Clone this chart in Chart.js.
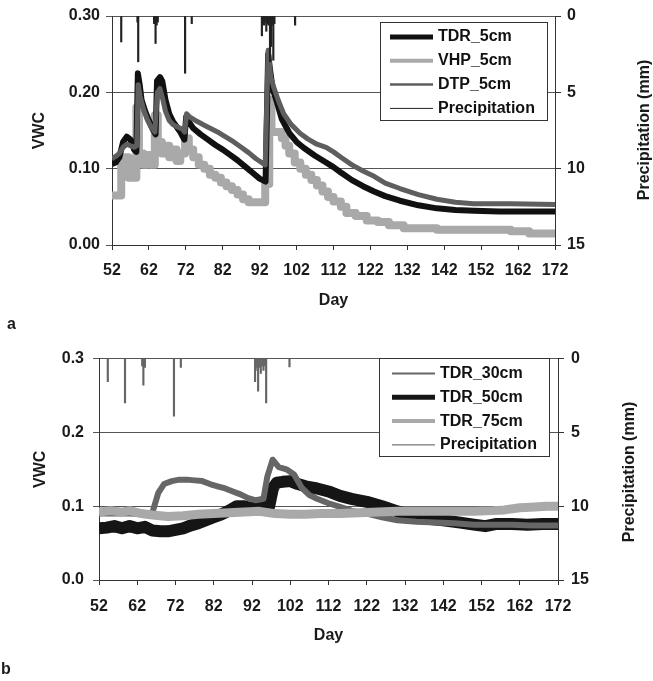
<!DOCTYPE html>
<html><head><meta charset="utf-8">
<script src="https://cdn.jsdelivr.net/npm/chart.js@4.4.1/dist/chart.umd.min.js"></script>
<style>
html,body{margin:0;padding:0;background:#fff;width:653px;height:681px;overflow:hidden}
.wrap{position:absolute;left:0;width:653px}
</style></head><body>
<div class="wrap" style="top:0;height:340px"><canvas id="ca"></canvas></div>
<div class="wrap" style="top:340px;height:341px"><canvas id="cb"></canvas></div>
<script>
// ---------- shared ticks ----------
const dayTicks = [52, 62, 72, 82, 92, 102, 112, 122, 132, 142, 152, 162, 172];
const vwcTickLabelsA = ['0.00', '0.10', '0.20', '0.30'];
const vwcTickLabelsB = ['0.0', '0.1', '0.2', '0.3'];
const precipTicks = [0, 5, 10, 15];

// ---------- panel a ----------
const tdr5Days = [52,53,54,55,56,57,58,58.6,59,59.5,60,61,62,63,63.8,64.2,65,65.6,66.5,67.5,68.5,69.5,70.5,71.6,72.1,73,74,76,78,80,82,84,86,88,90,92,93.6,94.3,94.8,95.5,96.5,98,100,102,104,107,110,112,114,117,120,123,126,130,135,140,145,150,157,162,167,172];
const tdr5Vals = [0.106,0.108,0.115,0.135,0.142,0.138,0.125,0.122,0.225,0.21,0.19,0.175,0.163,0.152,0.145,0.215,0.22,0.215,0.19,0.172,0.162,0.155,0.148,0.138,0.168,0.16,0.153,0.145,0.138,0.131,0.125,0.118,0.111,0.103,0.095,0.087,0.083,0.25,0.23,0.205,0.19,0.165,0.147,0.135,0.127,0.117,0.108,0.102,0.095,0.085,0.077,0.07,0.064,0.058,0.052,0.048,0.046,0.045,0.044,0.044,0.044,0.044];

const vhp5Days = [52,54.5,56.5,58.6,59.3,60.5,61.5,62.5,63.6,64.4,65.5,66.5,67.5,68.5,69.5,70.5,71.8,72.8,74,75.5,77,78.5,80,81.5,83,84.5,86,87.5,89,93.5,94.6,95.2,98,99,100,101.5,103,104.5,106,107.5,109,110.5,112,114,115.5,118,121,124,127,131,140,150,160,165,172];
const vhp5Vals = [0.065,0.115,0.088,0.18,0.12,0.105,0.118,0.105,0.17,0.135,0.12,0.13,0.115,0.125,0.11,0.12,0.14,0.125,0.115,0.105,0.1,0.092,0.088,0.082,0.077,0.072,0.066,0.06,0.056,0.08,0.19,0.148,0.14,0.13,0.12,0.108,0.1,0.092,0.085,0.078,0.07,0.063,0.057,0.05,0.042,0.038,0.032,0.03,0.026,0.022,0.02,0.02,0.018,0.015,0.015];

const dtp5Days = [52,53,54,55,56,57,58,58.7,59.1,59.6,60.5,61.5,62.5,63.6,64.3,65,65.8,66.5,67.5,68.5,69.5,71,71.7,72.2,73,75,77,79,81,83,85,87,89,91,93.5,94.3,95,95.8,97,98.5,100.5,103,105,107.5,110,112,114,117,120,123,126,130,135,140,145,150,160,172];
const dtp5Vals = [0.113,0.116,0.12,0.128,0.132,0.13,0.128,0.13,0.21,0.195,0.178,0.165,0.155,0.148,0.2,0.205,0.19,0.175,0.163,0.158,0.155,0.152,0.148,0.172,0.168,0.162,0.157,0.152,0.147,0.141,0.135,0.128,0.121,0.113,0.105,0.255,0.22,0.207,0.19,0.172,0.158,0.146,0.139,0.132,0.128,0.122,0.115,0.105,0.097,0.09,0.081,0.074,0.066,0.06,0.056,0.054,0.054,0.053];

const precipDaysA = [54.5,58.9,59.1,63.4,63.8,64.1,64.4,71.8,73.6,92.6,92.9,93.2,93.5,93.8,94.1,94.4,94.8,95.1,95.4,95.7,96.0,101.6];
const precipMmA   = [1.7,0.4,3.0,0.5,1.8,0.6,0.4,3.75,0.5,1.3,0.5,0.6,0.4,1.0,0.5,0.6,3.0,2.0,0.6,2.9,0.5,0.6];

// ---------- panel b ----------
const tdr30Days = [52,56,60,64,66,67.5,69,71,73,75,77,79,81,83,85,87,89,91,93,95,96,97.4,99,101,103,105,107,109,112,115,118,122,126,130,135,140,145,150,155,160,165,172];
const tdr30Vals = [0.09,0.09,0.09,0.089,0.092,0.118,0.13,0.134,0.136,0.136,0.135,0.134,0.13,0.127,0.124,0.12,0.116,0.111,0.108,0.11,0.14,0.163,0.153,0.15,0.143,0.125,0.115,0.11,0.104,0.099,0.094,0.09,0.085,0.081,0.079,0.078,0.077,0.075,0.075,0.075,0.074,0.074];

const tdr50Days = [52,54,56,58,60,62,64,66,68,70,72,74,76,78,80,82,84,86,88,90,92,94,96.5,97.5,98.5,100,102,104,106,109,112,115,118,122,126,130,134,138,142,146,150,153,156,160,164,168,172];
const tdr50Vals = [0.07,0.071,0.073,0.07,0.073,0.07,0.072,0.067,0.066,0.066,0.068,0.07,0.074,0.077,0.081,0.085,0.089,0.094,0.1,0.1,0.097,0.1,0.1,0.125,0.132,0.133,0.134,0.13,0.127,0.124,0.12,0.114,0.11,0.106,0.1,0.093,0.088,0.083,0.081,0.078,0.075,0.073,0.076,0.076,0.075,0.076,0.076];

const tdr75Days = [52,55,58,60,63,66,70,74,78,82,86,90,94,98,102,106,110,115,120,125,130,135,140,145,150,155,158,162,166,169,172];
const tdr75Vals = [0.092,0.094,0.092,0.094,0.09,0.088,0.086,0.087,0.089,0.09,0.091,0.092,0.093,0.09,0.089,0.089,0.09,0.09,0.091,0.092,0.093,0.093,0.093,0.093,0.093,0.094,0.095,0.098,0.099,0.1,0.1];

const precipDaysB = [54.3,58.8,63.3,63.6,64.0,71.6,73.4,92.8,93.1,93.4,93.6,94.0,94.3,94.7,95.0,95.4,95.7,101.8];
const precipMmB   = [1.56,3.0,0.5,1.8,0.6,3.9,0.6,1.56,0.6,0.8,2.2,0.6,1.0,0.5,0.8,0.5,3.0,0.57];

// ---------- helpers ----------
const FONT = '"Liberation Sans", Arial, Helvetica, sans-serif';
Chart.defaults.font.family = FONT;
Chart.defaults.font.size = 16;
Chart.defaults.font.weight = 'bold';
Chart.defaults.color = '#1a1a1a';

const pts = (xs, ys) => xs.map((x, i) => ({x: x, y: ys[i]}));

function overlayPlugin(cfg) {
  return {
    id: 'overlay_' + cfg.letter,
    afterDatasetsDraw(chart) {
      const ctx = chart.ctx;
      ctx.save();
      ctx.fillStyle = '#fff';
      ctx.fillRect(cfg.box.x, cfg.box.y, cfg.box.w, cfg.box.h);
      ctx.strokeStyle = '#333';
      ctx.lineWidth = 1;
      ctx.strokeRect(cfg.box.x, cfg.box.y, cfg.box.w, cfg.box.h);
      ctx.font = 'bold 16px ' + FONT;
      ctx.textBaseline = 'middle';
      ctx.textAlign = 'left';
      cfg.order.forEach((idx, r) => {
        const ds = chart.data.datasets[idx];
        const y = cfg.rowY + r * cfg.rowGap;
        ctx.strokeStyle = ds.legendColor;
        ctx.lineWidth = ds.legendWidth;
        ctx.beginPath();
        ctx.moveTo(cfg.lineX1, y);
        ctx.lineTo(cfg.lineX2, y);
        ctx.stroke();
        ctx.fillStyle = '#111';
        ctx.fillText(ds.label, cfg.textX, y);
      });
      ctx.restore();
    },
    afterDraw(chart) {
      const ctx = chart.ctx;
      ctx.save();
      ctx.font = 'bold 16px ' + FONT;
      ctx.fillStyle = '#1a1a1a';
      ctx.textAlign = 'center';
      ctx.textBaseline = 'middle';
      ctx.translate(cfg.rTitle.x, cfg.rTitle.y);
      ctx.rotate(-Math.PI / 2);
      ctx.fillText('Precipitation (mm)', 0, 0);
      ctx.restore();
      ctx.save();
      ctx.font = 'bold 16px ' + FONT;
      ctx.fillStyle = '#1a1a1a';
      ctx.textAlign = 'left';
      ctx.textBaseline = 'middle';
      ctx.fillText(cfg.letter, cfg.letterPos.x, cfg.letterPos.y);
      ctx.restore();
    }
  };
}

function makeScales(p) {
  return {
    x: {
      type: 'linear', position: 'bottom', min: 52, max: 172, offset: false,
      afterBuildTicks: s => { s.ticks = dayTicks.map(v => ({value: v})); },
      afterFit: s => { s.height = p.xHeight; },
      grid: {drawOnChartArea: false, drawTicks: true, tickLength: 5, color: '#333', lineWidth: 1, offset: false},
      border: {display: true, color: '#333', width: 1},
      ticks: {autoSkip: false, maxRotation: 0, padding: p.xPad, color: '#1a1a1a', callback: v => String(v)},
      title: {display: true, text: 'Day', color: '#1a1a1a', font: {size: 16, weight: 'bold'}, padding: {top: 0, bottom: p.dayPad}}
    },
    y: {
      type: 'linear', position: 'left', min: 0, max: 0.3,
      afterBuildTicks: s => { s.ticks = [0, 0.1, 0.2, 0.3].map(v => ({value: v})); },
      afterFit: s => { s.width = p.yWidth; },
      grid: {drawTicks: true, tickLength: 6, color: '#555', lineWidth: 1},
      border: {display: true, color: '#333', width: 1},
      ticks: {padding: p.yPad, color: '#1a1a1a', callback: (v, i) => p.yLabels[i]},
      title: {display: true, text: 'VWC', color: '#1a1a1a', font: {size: 16, weight: 'bold'}, padding: {top: p.vwcPad, bottom: 0}}
    },
    y2: {
      type: 'linear', position: 'right', min: 0, max: 15, reverse: true,
      afterBuildTicks: s => { s.ticks = precipTicks.map(v => ({value: v})); },
      afterFit: s => { s.width = p.y2Width; },
      grid: {drawOnChartArea: false, drawTicks: true, tickLength: 6, color: '#333', lineWidth: 1},
      border: {display: true, color: '#333', width: 1},
      ticks: {padding: p.y2Pad, color: '#1a1a1a', callback: v => String(v)}
    }
  };
}

const baseOpts = {
  responsive: true, maintainAspectRatio: false, animation: false, devicePixelRatio: 1,
  events: [],
  plugins: {legend: {display: false}, tooltip: {enabled: false}},
  elements: {point: {radius: 0}, line: {tension: 0, borderJoinStyle: 'round', borderCapStyle: 'butt'}}
};

// ---------- chart a ----------
new Chart(document.getElementById('ca'), {
  type: 'line',
  data: {
    datasets: [
      {type: 'bar', label: 'Precipitation', data: pts(precipDaysA, precipMmA), yAxisID: 'y2', xAxisID: 'x',
       backgroundColor: '#222', borderWidth: 0, barThickness: 1.5, order: 0, legendColor: '#222', legendWidth: 1},
      {label: 'DTP_5cm', data: pts(dtp5Days, dtp5Vals), yAxisID: 'y', borderColor: '#5e5e5e', borderWidth: 5,
       order: 1, legendColor: '#5e5e5e', legendWidth: 2.5},
      {label: 'TDR_5cm', data: pts(tdr5Days, tdr5Vals), yAxisID: 'y', borderColor: '#111', borderWidth: 6,
       order: 2, legendColor: '#111', legendWidth: 5},
      {label: 'VHP_5cm', data: pts(vhp5Days, vhp5Vals), yAxisID: 'y', borderColor: '#a9a9a9', borderWidth: 8,
       stepped: true, order: 3, legendColor: '#a9a9a9', legendWidth: 4}
    ]
  },
  options: Object.assign({}, baseOpts, {
    layout: {padding: {top: 16, left: 0, right: 0, bottom: 0}},
    scales: makeScales({xHeight: 95, xPad: 11, dayPad: 30, yWidth: 112, yPad: 6, yLabels: vwcTickLabelsA, vwcPad: 30, y2Width: 98, y2Pad: 6})
  }),
  plugins: [overlayPlugin({
    letter: 'a', letterPos: {x: 7, y: 325}, rTitle: {x: 645, y: 130},
    box: {x: 380.5, y: 22.5, w: 167, h: 98}, order: [2, 3, 1, 0],
    rowY: 37, rowGap: 23.8, lineX1: 390, lineX2: 433, textX: 438
  })]
});

// ---------- chart b ----------
new Chart(document.getElementById('cb'), {
  type: 'line',
  data: {
    datasets: [
      {type: 'bar', label: 'Precipitation', data: pts(precipDaysB, precipMmB), yAxisID: 'y2', xAxisID: 'x',
       backgroundColor: '#666', borderWidth: 0, barThickness: 1.5, order: 0, legendColor: '#555', legendWidth: 1},
      {label: 'TDR_75cm', data: pts(tdr75Days, tdr75Vals), yAxisID: 'y', borderColor: '#a9a9a9', borderWidth: 9,
       order: 1, legendColor: '#a9a9a9', legendWidth: 4},
      {label: 'TDR_30cm', data: pts(tdr30Days, tdr30Vals), yAxisID: 'y', borderColor: '#666', borderWidth: 6,
       order: 2, legendColor: '#666', legendWidth: 2},
      {label: 'TDR_50cm', data: pts(tdr50Days, tdr50Vals), yAxisID: 'y', borderColor: '#151515', borderWidth: 12,
       order: 3, legendColor: '#151515', legendWidth: 5}
    ]
  },
  options: Object.assign({}, baseOpts, {
    layout: {padding: {top: 13, left: 0, right: 0, bottom: 0}},
    scales: makeScales({xHeight: 101, xPad: 12, dayPad: 36, yWidth: 99, yPad: 9, yLabels: vwcTickLabelsB, vwcPad: 31, y2Width: 95, y2Pad: 7})
  }),
  plugins: [overlayPlugin({
    letter: 'b', letterPos: {x: 1, y: 330}, rTitle: {x: 630, y: 132},
    box: {x: 379.5, y: 18.5, w: 170, h: 98}, order: [2, 3, 1, 0],
    rowY: 33.5, rowGap: 23.8, lineX1: 392, lineX2: 435, textX: 440
  })]
});
</script>
</body></html>
